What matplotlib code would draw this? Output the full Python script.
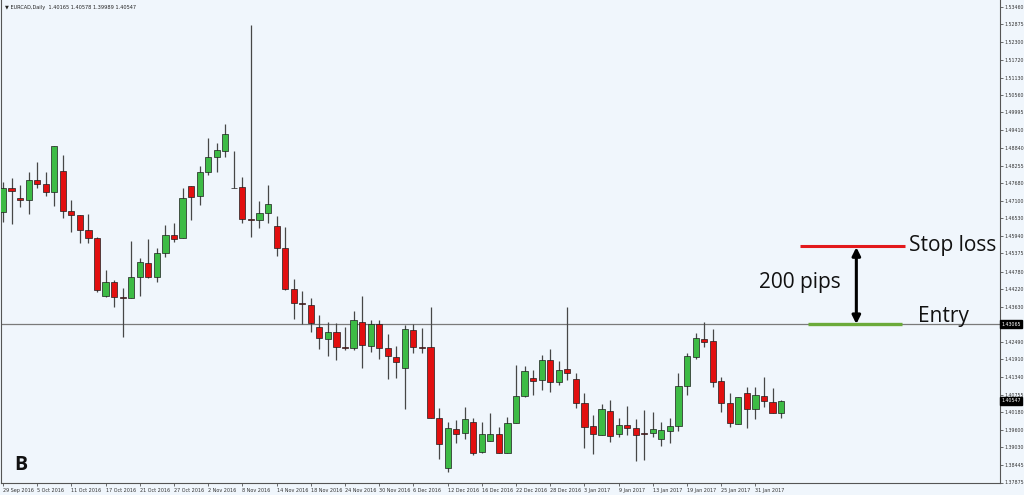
import matplotlib
matplotlib.use("Agg")
import matplotlib.pyplot as plt
import numpy as np

# ---------------- data ----------------
opens = [1.46733, 1.47519, 1.47192, 1.47126, 1.47781, 1.47650, 1.47388, 1.48076, 1.46766, 1.46635,
         1.46144, 1.45881, 1.43982, 1.44440, 1.43949, 1.43917, 1.44604, 1.45063, 1.44604, 1.45390,
         1.45980, 1.45881, 1.47585, 1.47257, 1.48043, 1.48534, 1.48731, 1.47519, 1.47552, 1.46504,
         1.46471, 1.46700, 1.46274, 1.45554, 1.44211, 1.43753, 1.43687, 1.42967, 1.42574, 1.42803,
         1.42312, 1.42279, 1.43131, 1.42345, 1.43065, 1.42279, 1.41984, 1.41624, 1.42869, 1.42312,
         1.42312, 1.39987, 1.38349, 1.39627, 1.39496, 1.39856, 1.38873, 1.39233, 1.39463, 1.38840,
         1.39823, 1.40707, 1.41297, 1.41231, 1.41886, 1.41166, 1.41591, 1.41264, 1.40478, 1.39725,
         1.39430, 1.40216, 1.39463, 1.39758, 1.39659, 1.39496, 1.39496, 1.39299, 1.39561, 1.39725,
         1.41035, 1.41984, 1.42574, 1.42508, 1.41198, 1.40478, 1.39790, 1.40805, 1.40281, 1.40707,
         1.40511, 1.40165]
highs = [1.47716, 1.47847, 1.47617, 1.48043, 1.48371, 1.48043, 1.48895, 1.48600, 1.47126, 1.46635,
         1.46667, 1.45914, 1.44834, 1.44506, 1.44244, 1.45783, 1.45226, 1.45848, 1.45554, 1.46307,
         1.46373, 1.47519, 1.47585, 1.48240, 1.49156, 1.48993, 1.49615, 1.48731, 1.47879, 1.52857,
         1.47093, 1.47617, 1.46602, 1.46242, 1.44539, 1.44146, 1.43917, 1.43360, 1.43131, 1.43098,
         1.42967, 1.43491, 1.43982, 1.43196, 1.43196, 1.42737, 1.42345, 1.43032, 1.43065, 1.42934,
         1.43622, 1.40314, 1.39856, 1.39921, 1.40347, 1.39987, 1.39856, 1.40150, 1.39692, 1.40019,
         1.41722, 1.41690, 1.41559, 1.42050, 1.42246, 1.41853, 1.43622, 1.41460, 1.40805, 1.40085,
         1.40445, 1.40576, 1.39987, 1.40379, 1.39954, 1.40248, 1.40183, 1.39856, 1.39987, 1.41460,
         1.42115, 1.42770, 1.43131, 1.42901, 1.41329, 1.40805, 1.40674, 1.41002, 1.41002, 1.41329,
         1.40969, 1.40578]
lows = [1.46405, 1.46340, 1.46897, 1.46667, 1.47519, 1.47257, 1.46929, 1.46536, 1.46078, 1.45717,
        1.45717, 1.44113, 1.43949, 1.43622, 1.42639, 1.43917, 1.43982, 1.44571, 1.44440, 1.45259,
        1.45750, 1.45881, 1.46471, 1.46962, 1.47945, 1.48043, 1.48534, 1.47503, 1.46373, 1.45914,
        1.46209, 1.46373, 1.45292, 1.44178, 1.43229, 1.43065, 1.42803, 1.42246, 1.42017, 1.41886,
        1.42214, 1.42214, 1.41624, 1.42148, 1.41919, 1.41264, 1.41297, 1.40281, 1.42115, 1.42115,
        1.39987, 1.38644, 1.38218, 1.39168, 1.39299, 1.38775, 1.38840, 1.39233, 1.38840, 1.38840,
        1.39823, 1.40674, 1.40740, 1.40904, 1.40838, 1.41067, 1.41231, 1.40314, 1.39004, 1.38808,
        1.39430, 1.39201, 1.39364, 1.39430, 1.38578, 1.38611, 1.39364, 1.39070, 1.39168, 1.39561,
        1.40740, 1.41919, 1.42312, 1.41002, 1.40183, 1.39692, 1.39790, 1.39659, 1.39954, 1.40347,
        1.40150, 1.39989]
closes = [1.47519, 1.47421, 1.47126, 1.47781, 1.47650, 1.47388, 1.48895, 1.46766, 1.46635, 1.46144,
          1.45881, 1.44178, 1.44440, 1.43949, 1.43933, 1.44604, 1.45096, 1.44604, 1.45390, 1.45980,
          1.45848, 1.47192, 1.47224, 1.48043, 1.48534, 1.48764, 1.49288, 1.47503, 1.46504, 1.46487,
          1.46700, 1.46995, 1.45554, 1.44211, 1.43753, 1.43736, 1.43098, 1.42606, 1.42803, 1.42312,
          1.42296, 1.43196, 1.42377, 1.43065, 1.42279, 1.42017, 1.41821, 1.42901, 1.42312, 1.42296,
          1.39987, 1.39135, 1.39659, 1.39463, 1.39954, 1.38840, 1.39463, 1.39463, 1.38840, 1.39823,
          1.40707, 1.41526, 1.41198, 1.41886, 1.41166, 1.41559, 1.41460, 1.40478, 1.39692, 1.39463,
          1.40281, 1.39397, 1.39758, 1.39659, 1.39430, 1.39479, 1.39627, 1.39594, 1.39725, 1.41035,
          1.42017, 1.42606, 1.42476, 1.41166, 1.40478, 1.39823, 1.40674, 1.40281, 1.40740, 1.40543,
          1.40150, 1.40547]

date_labels = ["29 Sep 2016", "5 Oct 2016", "11 Oct 2016", "17 Oct 2016", "21 Oct 2016",
               "27 Oct 2016", "2 Nov 2016", "8 Nov 2016", "14 Nov 2016", "18 Nov 2016",
               "24 Nov 2016", "30 Nov 2016", "6 Dec 2016", "12 Dec 2016", "16 Dec 2016",
               "22 Dec 2016", "28 Dec 2016", "3 Jan 2017", "9 Jan 2017", "13 Jan 2017",
               "19 Jan 2017", "25 Jan 2017", "31 Jan 2017"]
date_label_bars = [0, 4, 8, 12, 16, 20, 24, 28, 32, 36, 40, 44, 48, 52, 56, 60, 64, 68, 72, 76, 80, 84, 88]

price_ticks = [1.53460, 1.52875, 1.52300, 1.51720, 1.51130, 1.50560, 1.49995, 1.49410, 1.48840,
               1.48255, 1.47680, 1.47100, 1.46530, 1.45940, 1.45375, 1.44780, 1.44220, 1.43630,
               1.42490, 1.41910, 1.41340, 1.40755, 1.40180, 1.39600, 1.39030, 1.38445, 1.37875]

entry_price = 1.43065
stop_price = 1.45620
last_price = 1.40547
header = "EURCAD,Daily  1.40165 1.40578 1.39989 1.40547"

# ---------------- figure ----------------
BG = "#F0F6FC"
fig = plt.figure(figsize=(10.24, 4.95), dpi=100, facecolor=BG)
ax = fig.add_axes([1/1024, 12.5/495, 999/1024, 482.5/495])
ax.set_facecolor(BG)

o = np.array(opens); h = np.array(highs); l = np.array(lows); c = np.array(closes)
x = np.arange(len(o))

ax.vlines(x, l, h, color="#474747", lw=0.9, zorder=2)
up = c > o
down = c < o
flat = ~(up | down) | (np.abs(c - o) < 0.00012)
body_bottom = np.minimum(o, c)
body_h = np.abs(c - o)
w = 0.72
ax.bar(x[up & ~flat], body_h[up & ~flat], bottom=body_bottom[up & ~flat], width=w,
       color="#3DBB45", edgecolor="#1d1d1d", lw=0.5, zorder=3)
ax.bar(x[down & ~flat], body_h[down & ~flat], bottom=body_bottom[down & ~flat], width=w,
       color="#E20F0F", edgecolor="#1d1d1d", lw=0.5, zorder=3)
ax.hlines(((o + c) / 2)[flat], x[flat] - w/2, x[flat] + w/2, color="#202020", lw=1.2, zorder=3)

# horizontal entry line across chart
ax.axhline(entry_price, color="#7a7a7a", lw=0.9, zorder=1)

ax.set_xlim(-0.23, 116.6)
ax.set_ylim(1.37875, 1.53676)

# spines
ax.spines["top"].set_visible(False)
for s in ["left", "right", "bottom"]:
    ax.spines[s].set_color("#555555")
    ax.spines[s].set_linewidth(0.8)

# y axis on right
ax.yaxis.tick_right()
ax.set_yticks(price_ticks)
ax.set_yticklabels([f"{p:.5f}" for p in price_ticks], fontsize=3.4, color="#333333")
ax.tick_params(axis="y", direction="out", length=2, width=0.5, pad=1.5, colors="#333333")

# x axis
ax.set_xticks(date_label_bars)
ax.set_xticklabels(date_labels, fontsize=3.5, color="#333333", ha="left")
ax.tick_params(axis="x", direction="out", length=2.5, width=0.5, pad=1.5, colors="#333333")
for lab in ax.get_xticklabels():
    lab.set_horizontalalignment("left")

# highlighted price labels
for p in (entry_price, last_price):
    ax.text(1.0015, p, f"{p:.5f}", transform=ax.get_yaxis_transform(), fontsize=3.4,
            color="white", va="center", ha="left",
            bbox=dict(boxstyle="square,pad=0.25", fc="black", ec="black"), clip_on=False, zorder=10)

# header
ax.text(0.004, 0.99, "\u25BC " + header, transform=ax.transAxes, fontsize=3.6,
        color="#222222", va="top", ha="left")

# annotations
ax.plot([93.2, 105.5], [stop_price, stop_price], color="#E3191C", lw=2.2, solid_capstyle="butt", zorder=6)
ax.plot([94.2, 105.1], [entry_price, entry_price], color="#6BAA3A", lw=2.4, solid_capstyle="butt", zorder=6)
ax.annotate("", xy=(99.8, stop_price - 0.0004), xytext=(99.8, entry_price),
            arrowprops=dict(arrowstyle="<|-|>", color="black", lw=2.2, mutation_scale=12,
                            shrinkA=0, shrinkB=0), zorder=7)
ax.text(106.0, stop_price, "Stop loss", fontsize=15, family="Open Sans", color="#111111",
        va="center", ha="left", zorder=8)
ax.text(107.0, entry_price + 0.00245, "Entry", fontsize=15, family="Open Sans", color="#111111",
        va="center", ha="left", zorder=8)
ax.text(93.2, 1.44420, "200 pips", fontsize=15, family="Open Sans", color="#111111",
        va="center", ha="center", zorder=8)

fig.text(14/1024, 1 - 465/495, "B", fontsize=14, fontweight="bold", family="Open Sans",
         color="#111111", va="center", ha="left")

fig.savefig("out.png", dpi=100, facecolor=BG)
